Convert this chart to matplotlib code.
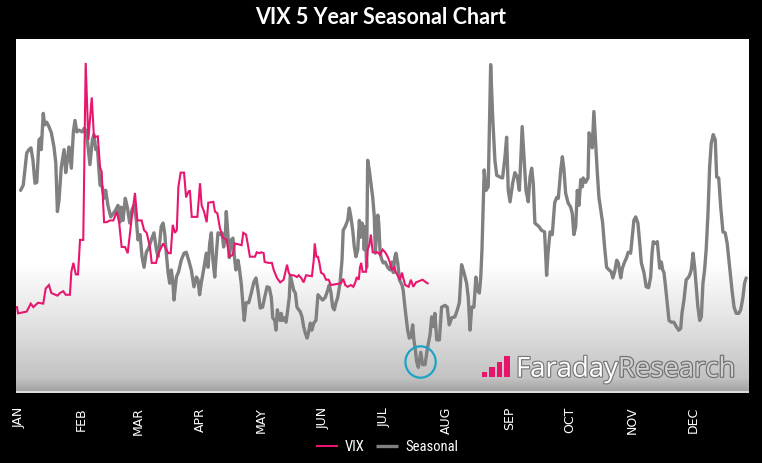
import numpy as np
import matplotlib
matplotlib.use("Agg")
import matplotlib.pyplot as plt
from matplotlib import patheffects as pe
from matplotlib.patches import Ellipse, Rectangle
from matplotlib import font_manager as fm

# ---------------- data ----------------
months = ["JAN", "FEB", "MAR", "APR", "MAY", "JUN", "JUL", "AUG", "SEP", "OCT", "NOV", "DEC"]
month_start_day = [0, 31, 59, 90, 120, 151, 181, 212, 243, 273, 304, 334]

seasonal_day = [1.8,3.1,4.8,5.9,6.9,7.9,8.9,9.8,10.9,11.7,12.0,13.0,13.7,14.7,15.8,17.0,18.3,19.2,20.0,20.8,
    21.9,23.3,24.1,24.9,25.7,26.9,27.9,28.7,29.6,30.7,32.3,33.2,34.0,34.8,36.1,37.3,38.1,39.0,39.8,41.1,
    42.2,43.1,43.9,45.0,46.4,47.7,48.9,50.0,51.0,51.6,52.5,53.6,54.6,55.8,56.9,57.9,59.1,59.9,60.9,61.9,
    62.9,64.0,65.2,66.5,67.8,69.0,69.8,70.6,71.4,72.3,73.1,73.9,74.8,75.6,76.4,77.2,77.7,78.9,80.0,81.3,
    82.7,83.8,85.0,86.3,87.6,88.8,89.6,90.4,91.2,92.6,93.7,94.6,95.4,96.2,97.0,97.9,98.7,99.5,100.8,101.5,
    102.3,103.1,103.6,104.5,105.1,106.1,106.9,107.8,108.4,109.4,110.0,111.0,111.7,112.5,113.4,114.7,116.0,117.2,118.3,119.3,
    120.4,121.6,122.6,123.8,124.9,125.9,126.6,127.6,128.2,128.9,129.6,130.3,130.8,131.5,132.5,133.2,133.8,134.8,135.3,136.1,
    137.0,137.8,138.6,139.5,140.2,141.1,141.9,142.7,143.6,144.4,145.2,146.0,146.9,148.0,149.0,150.1,151.3,152.6,153.8,154.6,
    155.4,156.3,157.1,157.9,158.8,159.9,160.9,161.5,162.5,163.7,164.5,165.3,166.2,167.0,167.8,168.7,169.5,170.1,170.8,171.4,
    171.9,172.4,173.1,173.6,174.4,175.2,176.1,176.9,177.4,178.1,178.6,179.1,179.7,180.2,180.7,181.3,182.3,183.5,184.7,185.6,
    186.3,187.1,187.6,188.5,189.3,190.6,191.2,192.2,193.4,194.2,195.0,195.9,196.5,197.2,197.9,198.7,199.9,200.8,202.0,203.1,
    204.5,205.3,206.1,206.9,207.8,209.1,210.2,211.9,213.0,214.0,215.2,216.8,218.0,219.0,220.1,221.3,222.6,223.4,224.3,225.1,
    226.2,227.2,227.9,228.9,229.6,230.2,230.8,231.3,232.2,233.3,234.5,235.5,236.6,237.5,239.1,240.4,241.6,242.4,243.2,244.1,
    245.4,246.5,247.7,248.7,249.4,250.1,251.0,252.0,253.1,254.0,254.8,255.6,256.4,258.4,259.6,261.2,262.2,262.9,263.9,265.0,
    266.2,267.2,268.0,269.2,270.0,270.8,271.6,272.8,274.1,274.9,275.7,276.6,277.4,278.2,279.1,279.9,280.3,281.5,282.7,283.2,
    284.0,284.8,285.6,286.5,287.3,288.1,289.0,289.9,290.9,291.9,293.1,294.2,295.0,295.9,296.9,297.7,298.9,299.7,300.8,301.8,
    302.6,303.8,304.6,305.4,306.3,307.4,308.3,309.1,310.4,311.5,312.7,313.7,314.4,315.0,316.0,317.0,317.7,318.2,319.0,319.7,
    320.3,320.9,321.9,322.8,323.9,325.2,326.4,327.6,328.6,329.2,330.2,331.3,332.2,333.0,333.8,334.7,335.5,336.3,337.1,338.0,
    338.8,339.6,340.4,341.2,342.1,342.9,343.7,344.7,345.7,346.4,347.4,348.4,349.5,350.6,351.6,352.8,354.0,355.0,356.1,357.3,
    358.3,359.4,360.2,361.0]

seasonal_val = [22.9,23.5,27.1,27.5,27.7,26.3,23.7,23.8,28.6,28.8,27.5,31.6,30.3,30.6,30.1,29.4,27.8,26.0,20.5,21.8,
    25.5,27.5,24.9,26.3,27.8,25.4,29.5,30.8,29.5,29.7,29.5,29.9,29.7,28.6,25.8,28.6,29.2,27.5,27.7,23.5,
    23.3,22.0,22.9,21.2,19.9,20.3,20.7,21.2,19.3,21.0,19.5,22.0,21.0,19.2,20.7,21.2,19.5,17.3,17.9,15.4,
    14.2,15.9,16.4,17.3,18.1,16.2,15.4,16.9,18.8,19.2,18.1,15.8,13.6,12.4,13.9,12.4,10.5,13.1,13.7,15.0,
    15.8,15.9,15.0,13.9,12.0,13.1,12.8,11.1,12.4,14.2,15.8,14.2,16.9,18.1,15.0,13.1,15.8,18.1,17.9,18.1,
    16.5,17.6,20.5,17.6,15.3,17.3,17.5,15.0,13.9,15.0,14.2,12.4,10.5,8.2,10.2,10.2,11.3,12.5,13.0,11.6,
    9.6,9.7,10.8,12.0,11.9,10.8,8.5,8.2,7.1,9.4,8.6,8.2,9.0,8.2,8.5,8.0,9.0,10.8,13.3,12.5,
    11.6,11.3,9.7,9.4,9.2,8.6,7.5,6.8,6.2,6.9,7.9,7.1,7.9,8.2,11.1,10.8,10.5,10.8,11.6,12.2,
    11.4,9.7,9.4,10.2,10.8,12.4,15.0,18.4,18.8,19.5,20.9,19.9,18.4,16.5,15.4,16.2,19.5,17.6,19.2,18.8,
    16.2,18.8,14.2,26.3,25.2,23.7,22.1,19.9,15.8,18.4,20.1,19.2,16.2,15.4,15.0,14.7,14.8,14.2,13.9,14.8,
    13.6,15.4,15.8,14.7,12.8,12.2,11.6,9.4,7.1,6.2,6.3,7.7,6.0,4.9,3.5,2.9,4.6,3.2,3.2,4.9,
    6.6,8.6,7.5,9.0,6.0,6.0,9.7,9.9,9.7,7.7,8.5,8.6,9.4,10.2,14.5,13.6,12.4,10.8,7.1,9.7,
    9.7,13.1,11.6,11.3,13.1,16.2,21.0,25.2,22.9,23.3,37.1,31.2,26.3,24.6,24.4,24.3,26.7,28.9,22.9,21.6,
    23.7,24.9,24.4,22.9,26.3,30.1,26.7,22.9,21.6,24.4,25.4,23.7,19.2,18.8,18.4,18.2,13.3,15.8,18.2,17.9,
    21.5,22.1,22.0,25.2,26.7,25.2,22.6,21.5,21.0,20.3,17.9,18.8,22.9,21.2,24.1,23.3,24.3,23.8,24.3,29.4,
    28.9,27.7,31.8,28.2,24.9,22.1,20.7,19.3,16.5,14.2,13.9,13.7,13.0,13.7,15.0,14.7,13.0,14.1,14.8,15.3,
    15.9,15.8,17.6,19.5,19.9,19.2,16.9,14.7,13.6,12.0,11.9,13.1,15.8,17.1,16.9,17.1,15.4,14.1,14.8,13.9,
    13.6,12.4,10.2,8.2,8.0,8.0,7.5,7.1,7.3,9.0,10.5,12.8,13.0,13.3,13.9,15.8,14.2,12.0,9.7,8.2,
    8.6,12.4,13.9,16.2,20.3,25.5,28.2,29.2,28.6,24.4,24.3,21.0,18.2,18.1,16.9,14.2,11.6,9.7,9.0,9.0,
    9.4,10.8,12.4,13.0]

vix_day = [0,0.5,4.8,6.8,8.1,10.4,13.0,14.2,15.8,17.0,20.0,21.3,22.9,24.1,26.2,26.9,27.9,29.1,30.2,31.2,
    32.8,34.0,35.3,37.0,38.1,40.0,41.1,41.9,43.1,44.4,46.0,47.7,49.4,50.6,51.8,53.5,54.8,56.8,58.4,59.6,
    61.7,62.9,64.2,65.8,66.7,68.8,70.0,72.4,74.9,76.1,77.1,78.2,79.1,79.9,81.0,82.7,83.7,84.8,85.6,86.5,
    89.3,90.6,91.4,92.6,93.9,94.7,97.2,98.0,99.2,100.5,101.8,103.8,105.1,106.8,107.9,111.2,112.0,113.4,114.5,115.3,
    117.8,118.7,120.0,120.9,122.1,122.6,124.6,126.2,127.1,128.7,130.3,132.0,132.8,133.7,134.5,135.3,137.0,138.6,139.5,140.7,
    141.9,143.1,146.0,146.9,147.4,148.2,149.0,149.7,150.5,151.8,153.0,154.3,155.4,160.4,161.5,162.5,163.7,165.3,166.5,167.5,
    168.2,169.2,169.8,170.4,171.1,172.8,173.6,174.4,175.2,176.1,178.6,179.7,181.0,182.3,183.5,184.7,185.6,186.8,187.6,188.9,
    189.6,190.6,191.2,192.2,193.9,195.0,196.2,197.5,200.8,202.5,203.3]

vix_val = [9.7,9.0,9.2,10.1,9.7,10.2,10.1,11.8,12.2,11.3,11.0,11.3,11.5,11.1,11.1,13.7,14.7,13.4,13.4,17.3,
    17.3,37.3,28.6,33.4,28.9,29.0,25.5,25.0,19.3,19.3,19.5,19.5,20.5,19.2,16.5,16.5,15.8,19.8,22.6,19.5,
    19.5,18.4,18.1,16.5,14.7,14.7,15.8,16.9,15.8,15.8,19.0,18.1,18.4,23.3,24.9,24.9,22.1,22.7,22.9,19.9,
    19.9,23.7,21.2,20.5,19.3,21.5,21.6,20.5,20.3,18.6,17.6,17.3,15.4,15.6,16.9,16.7,18.1,17.9,16.5,15.4,
    15.4,15.9,15.8,15.9,15.8,14.8,14.7,14.7,13.9,13.0,12.5,12.8,13.6,14.5,13.6,13.3,13.3,13.1,13.3,13.0,
    12.5,13.3,13.2,15.0,16.9,15.4,15.4,14.7,13.6,13.4,12.8,12.8,12.2,12.4,12.9,12.2,12.0,12.2,12.0,12.5,
    13.1,12.8,14.2,14.7,13.7,13.7,16.2,16.7,17.9,15.9,15.9,15.6,16.2,15.9,15.4,14.7,13.9,14.2,13.6,13.1,
    12.8,13.6,13.0,12.2,12.0,12.8,12.0,12.5,12.8,12.5,12.4]

assert len(seasonal_day) == len(seasonal_val), (len(seasonal_day), len(seasonal_val))
assert len(vix_day) == len(vix_val), (len(vix_day), len(vix_val))

# pick a condensed font for the legend if one is installed
_names = {f.name for f in fm.fontManager.ttflist}
legend_family = [n for n in ["Liberation Sans Narrow", "Roboto Condensed", "Open Sans Condensed"]
                 if n in _names] + ["Liberation Sans", "DejaVu Sans"]
legend_size = 10.5 if legend_family[0] not in ("Liberation Sans", "DejaVu Sans") else 9.5

# ---------------- figure ----------------
W, H = 762, 463
fig = plt.figure(figsize=(W / 100, H / 100), dpi=100, facecolor="black")
ax = fig.add_axes([16 / W, 70 / H, 733 / W, 354 / H])
ax.set_xlim(-0.5, 362.4)
ax.set_ylim(0, 40)

# background gradient (white top, grey toward the bottom)
pix = np.arange(354) + 39.5
g = np.interp(pix, [39, 262, 330, 378, 390.5, 391.5, 393],
              [1.0, 1.0, 0.87, 0.76, 0.64, 0.86, 0.86])
ax.imshow(np.repeat(g[:, None], 2, axis=1), cmap="gray", vmin=0, vmax=1,
          extent=(-0.5, 362.4, 0, 40), aspect="auto", interpolation="nearest", zorder=0)

for s in ax.spines.values():
    s.set_visible(False)

l_seas, = ax.plot(seasonal_day, seasonal_val, color="#808080", lw=2.4,
                  solid_joinstyle="round", solid_capstyle="round", zorder=2)
l_vix, = ax.plot(vix_day, vix_val, color="#e8166f", lw=1.5,
                 solid_joinstyle="miter", zorder=3)

# circle around the seasonal low
i_min = int(np.argmin(seasonal_val))
ax.add_patch(Ellipse((seasonal_day[i_min] + 1.1, seasonal_val[i_min] + 0.6), 15.0, 3.55,
                     fill=False, edgecolor="#1ea3c6", lw=1.6, zorder=4))

ax.set_xticks([d + 0.8 for d in month_start_day])
ax.set_xticklabels(months, rotation=90, color="white", fontsize=9, va="top", ha="center",
                   family="DejaVu Sans")
ax.tick_params(axis="x", length=0, pad=10)
ax.set_yticks([])

# title
fig.text(0.5, 1 - 17.5 / H, "VIX 5 Year Seasonal Chart", color="white", fontsize=15.5,
         fontweight="bold", ha="center", va="center", family=["Lato", "DejaVu Sans"])

# legend
leg = fig.legend([l_vix, l_seas], ["VIX", "Seasonal"], loc="center",
                 bbox_to_anchor=(0.508, 1 - 447 / H), ncol=2, frameon=False,
                 prop={"family": legend_family, "size": legend_size},
                 labelcolor="white", handlelength=1.5, handletextpad=0.5, columnspacing=0.8)
for ln in leg.get_lines():
    ln.set_solid_capstyle("butt")

# watermark
bar_x = [482.3, 489.3, 496.7, 504.0]
bar_w = [5.0, 5.5, 5.0, 6.0]
bar_h = [5, 10, 15, 21]
base = 1 - 376.7 / H
for x, w, h in zip(bar_x, bar_w, bar_h):
    fig.patches.append(Rectangle((x / W, base), w / W, h / H, transform=fig.transFigure,
                                 facecolor="#e8146c", edgecolor="none", zorder=5))
t1 = fig.text(516 / W, base, "Faraday", fontsize=19.8, family=["Open Sans", "DejaVu Sans"],
              color="white", ha="left", va="baseline", zorder=6,
              path_effects=[pe.withStroke(linewidth=1.7, foreground="#777777")])
fig.canvas.draw()
bb = t1.get_window_extent()
fig.text(bb.x1 / W, base, "Research", fontsize=19.8, family=["Open Sans", "DejaVu Sans"],
         color="#cfcfcf", ha="left", va="baseline", zorder=6,
         path_effects=[pe.withStroke(linewidth=1.7, foreground="#707070")])

fig.savefig("out.png", dpi=100, facecolor="black")
